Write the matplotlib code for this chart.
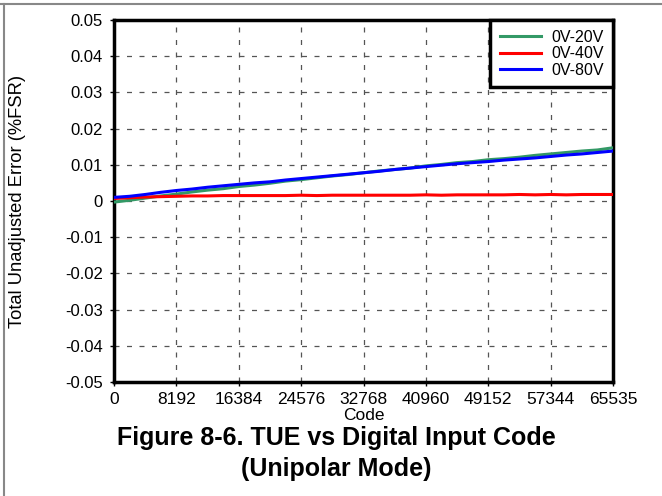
import matplotlib
matplotlib.use("Agg")
import matplotlib.pyplot as plt
from matplotlib.lines import Line2D

plt.rcParams['font.family'] = ['Liberation Sans', 'DejaVu Sans']

codes = [0, 2048, 4096, 6144, 8192, 10240, 12288, 14336, 16384, 18432, 20480,
         22528, 24576, 26624, 28672, 30720, 32768, 34816, 36864, 38912, 40960,
         43008, 45056, 47104, 49152, 51200, 53248, 55296, 57344, 59392, 61440,
         63488, 65535]
tue_20v = [-0.0003, 0.0002, 0.0008, 0.0014, 0.0019, 0.0025, 0.0030, 0.0034, 0.0040,
           0.0044, 0.0049, 0.0055, 0.0059, 0.0064, 0.0069, 0.0073, 0.0078, 0.0083,
           0.0087, 0.0091, 0.0097, 0.0101, 0.0106, 0.0109, 0.0114, 0.0117, 0.0121,
           0.0126, 0.0130, 0.0134, 0.0138, 0.0141, 0.0147]
tue_40v = [0.0007, 0.0009, 0.0011, 0.0012, 0.0013, 0.0014, 0.0014, 0.0015, 0.0015,
           0.0015, 0.0015, 0.0015, 0.0016, 0.0015, 0.0016, 0.0016, 0.0016, 0.0016,
           0.0016, 0.0016, 0.0017, 0.0016, 0.0017, 0.0017, 0.0017, 0.0017, 0.0018,
           0.0017, 0.0018, 0.0017, 0.0018, 0.0018, 0.0018]
tue_80v = [0.0010, 0.0013, 0.0018, 0.0024, 0.0029, 0.0033, 0.0038, 0.0042, 0.0046,
           0.0050, 0.0053, 0.0058, 0.0062, 0.0066, 0.0070, 0.0074, 0.0078, 0.0082,
           0.0087, 0.0091, 0.0095, 0.0099, 0.0103, 0.0106, 0.0109, 0.0113, 0.0116,
           0.0119, 0.0123, 0.0127, 0.0130, 0.0134, 0.0138]

x_ticks = [0, 8192, 16384, 24576, 32768, 40960, 49152, 57344, 65535]
y_ticks = [-0.05, -0.04, -0.03, -0.02, -0.01, 0, 0.01, 0.02, 0.03, 0.04, 0.05]
y_labels = ['-0.05', '-0.04', '-0.03', '-0.02', '-0.01', '0', '0.01', '0.02', '0.03', '0.04', '0.05']

W, H = 662, 496
fig = plt.figure(figsize=(W / 100, H / 100), dpi=100)
left, right, top, bottom = 114, 613, 20, 382
ax = fig.add_axes([left / W, 1 - bottom / H, (right - left) / W, (bottom - top) / H])

ax.plot(codes, tue_20v, color='#339966', lw=2.2, label='0V-20V', zorder=3)
ax.plot(codes, tue_40v, color='#ff0000', lw=2.2, label='0V-40V', zorder=3)
ax.plot(codes, tue_80v, color='#0000ff', lw=2.2, label='0V-80V', zorder=4)

ax.set_xlim(0, 65535)
ax.set_ylim(-0.05, 0.05)
ax.set_xticks(x_ticks)
ax.set_xticklabels([str(v) for v in x_ticks])
ax.set_yticks(y_ticks)
ax.set_yticklabels(y_labels)
ax.tick_params(axis='x', labelsize=12.5, length=3, width=1, direction='out', pad=4)
ax.tick_params(axis='y', labelsize=12, length=3, width=1, direction='out', pad=5)
ax.grid(True, color='#555555', linestyle=(0, (4, 6)), linewidth=0.9)
for s in ax.spines.values():
    s.set_linewidth(2.5)

ax.set_xlabel('Code', fontsize=12.5, labelpad=1)
ax.set_ylabel('Total Unadjusted Error (%FSR)', fontsize=13.2)
ax.yaxis.set_label_coords((26 - left) / (right - left), 0.5)

leg = ax.legend(loc='upper right', fontsize=11.5, frameon=True, fancybox=False,
                borderaxespad=0, handlelength=2.6, borderpad=0.6, labelspacing=0.1,
                handletextpad=0.6)
leg.get_frame().set_edgecolor('black')
leg.get_frame().set_linewidth(2.5)
leg.get_frame().set_alpha(1)

cx = 336 / W
fig.text(cx, 1 - 438 / H, 'Figure 8-6. TUE vs Digital Input Code',
         ha='center', va='center', fontsize=18, fontweight='bold')
fig.text(cx, 1 - 469 / H, '(Unipolar Mode)',
         ha='center', va='center', fontsize=18, fontweight='bold')

fig.add_artist(Line2D([0, 1], [1 - 4 / H, 1 - 4 / H], color='#888888', lw=1.5))
fig.add_artist(Line2D([4 / W, 4 / W], [0, 1 - 4 / H], color='#888888', lw=1.5))

fig.savefig('out.png', dpi=100)
